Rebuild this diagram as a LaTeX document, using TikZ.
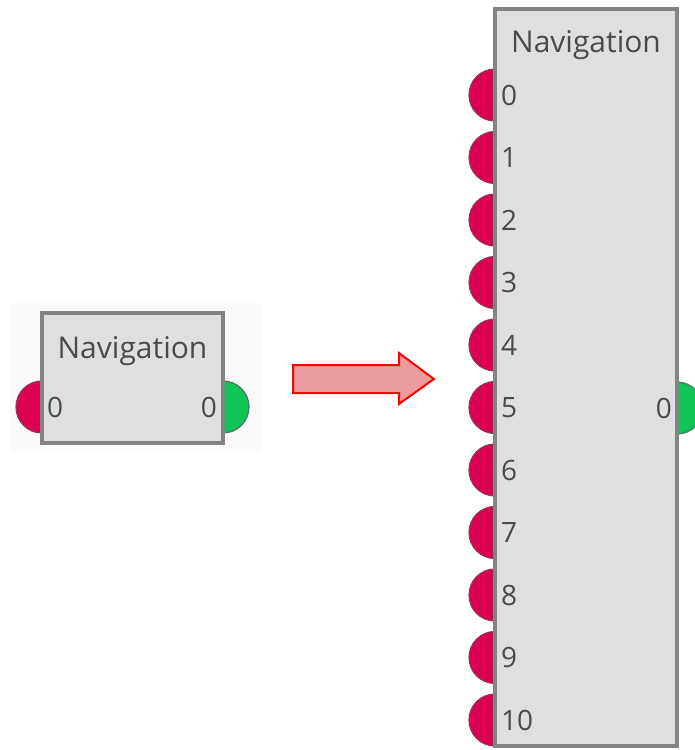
\documentclass[tikz,border=0pt]{standalone}
\usepackage{fontspec}
\setmainfont{Open Sans}
\usepackage{xcolor}
\usetikzlibrary{positioning, calc}

\definecolor{boxfill}{HTML}{DFDFDF}
\definecolor{boxline}{HTML}{838383}
\definecolor{txtgray}{HTML}{4A4A4A}
\definecolor{inred}{HTML}{DC0050}
\definecolor{inedge}{HTML}{8C3A58}
\definecolor{outgreen}{HTML}{10C455}
\definecolor{outedge}{HTML}{4A7A5A}
\definecolor{arrowfill}{HTML}{EB9C9C}

\begin{document}
\begin{tikzpicture}[
      x=1pt, y=-1pt,
      block/.style={draw=boxline, fill=boxfill, line width=3.5pt, inner sep=0pt},
      title/.style={text=txtgray, font=\fontsize{30}{32}\selectfont, anchor=base, inner sep=0pt},
      portlabel/.style={text=txtgray, font=\fontsize{28}{30}\selectfont, inner sep=0pt},
      inport/.style={fill=inred, draw=inedge, line width=1.2pt},
      outport/.style={fill=outgreen, draw=outedge, line width=1.2pt}
    ]
      \useasboundingbox (0,0) rectangle (694,750);

      % faint panel behind the small block
      \fill[black!2] (10,303) rectangle (262,452);

      % ports of the small block
      \coordinate (sin) at (42,407);
      \coordinate (sout) at (223,407);
      \draw[inport] (sin) ++(0,-26) arc[start angle=270, end angle=90, radius=26] -- cycle;
      \draw[outport] (sout) ++(0,-26) arc[start angle=-90, end angle=90, radius=26] -- cycle;

      % ports of the big block
      \foreach \i in {0,...,10} {
        \coordinate (bin\i) at (495,95+62.5*\i);
        \draw[inport] (bin\i) ++(0,-26) arc[start angle=270, end angle=90, radius=26] -- cycle;
      }
      \coordinate (bout) at (677,408);
      \draw[outport] (bout) ++(0,-26) arc[start angle=-90, end angle=90, radius=26] -- cycle;

      % blocks
      \node[block, minimum width=181pt, minimum height=130pt] (small) at (132.5,378) {};
      \node[block, minimum width=182pt, minimum height=737pt] (big) at (586,377.5) {};

      \node[title] (smalltitle) at (132.5,358) {Navigation};
      \node[title] (bigtitle) at (586,52) {Navigation};

      \node[portlabel, anchor=west] at ($(sin)+(5,0)$) {0};
      \node[portlabel, anchor=east] at ($(sout)+(-6,0)$) {0};
      \foreach \i in {0,...,10} {
        \node[portlabel, anchor=west] at ($(bin\i)+(6,0)$) {\i};
      }
      \node[portlabel, anchor=east] at ($(bout)+(-5,0)$) {0};

      % the arrow between them
      \draw[red, line width=2pt, fill=arrowfill, line join=miter]
        (293,365) -- (399,365) -- (399,353) -- (434,379) -- (399,404)
        -- (399,393) -- (293,393) -- cycle;
    \end{tikzpicture}
\end{document}
